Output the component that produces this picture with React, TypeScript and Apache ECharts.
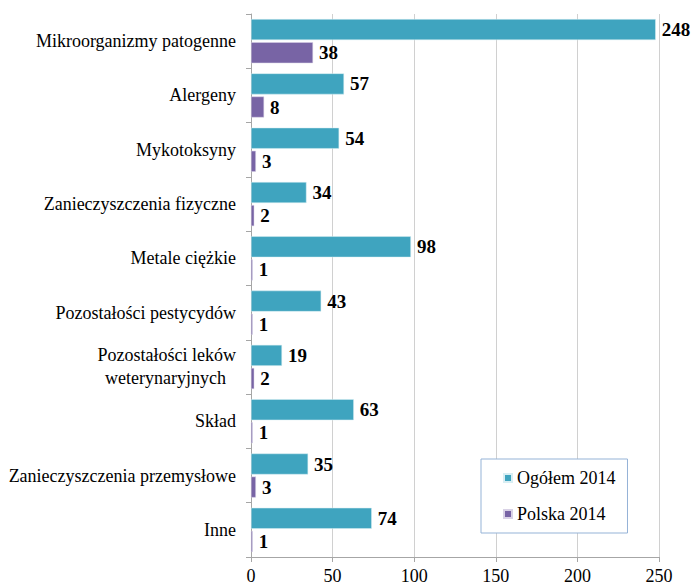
import React, { useEffect, useRef } from "react";
import * as echarts from "echarts";

const categories = [
  "Mikroorganizmy patogenne",
  "Alergeny",
  "Mykotoksyny",
  "Zanieczyszczenia fizyczne",
  "Metale ciężkie",
  "Pozostałości pestycydów",
  "Pozostałości leków weterynaryjnych",
  "Skład",
  "Zanieczyszczenia przemysłowe",
  "Inne",
];
const ogolem2014 = [248, 57, 54, 34, 98, 43, 19, 63, 35, 74];
const polska2014 = [38, 8, 3, 2, 1, 1, 2, 1, 3, 1];
const seriesNames = ["Ogółem 2014", "Polska 2014"];

const FONT = "Liberation Serif";

export default function App() {
  const ref = useRef<HTMLDivElement>(null);
  useEffect(() => {
    if (!ref.current) return;
    const chart = echarts.init(ref.current, null, { renderer: "svg" });
    const labelStyle = {
      show: true,
      position: "right",
      distance: 6,
      color: "#000",
      fontFamily: FONT,
      fontWeight: "bold",
      fontSize: 19,
    };
    chart.setOption({
      animation: false,
      backgroundColor: "#fff",
      textStyle: { fontFamily: FONT },
      grid: { left: 251, right: 35, top: 14, bottom: 28, containLabel: false },
      legend: {
        orient: "vertical",
        left: 481,
        top: 459,
        width: 155,
        height: 69,
        padding: [10, 12, 10, 22],
        itemGap: 18,
        itemWidth: 8,
        itemHeight: 8,
        icon: "rect",
        backgroundColor: "#fff",
        borderColor: "#95B3D7",
        borderWidth: 1,
        borderRadius: 0,
        textStyle: { fontFamily: FONT, fontSize: 18, color: "#000" },
        data: seriesNames,
      },
      xAxis: {
        type: "value",
        min: 0,
        max: 250,
        interval: 50,
        axisLine: { show: true, lineStyle: { color: "#A6A6A6" } },
        axisTick: { show: true, length: 5, lineStyle: { color: "#A6A6A6" } },
        splitLine: { show: true, lineStyle: { color: "#D0D0D0" } },
        axisLabel: { color: "#000", fontFamily: FONT, fontSize: 18, margin: 10 },
      },
      yAxis: {
        type: "category",
        inverse: true,
        data: categories,
        axisLine: { show: true, lineStyle: { color: "#A6A6A6" } },
        axisTick: { show: true, length: 5, lineStyle: { color: "#A6A6A6" } },
        axisLabel: {
          color: "#000",
          fontFamily: FONT,
          fontSize: 18,
          margin: 15,
          lineHeight: 23,
          formatter: (v: string) =>
            v === "Pozostałości leków weterynaryjnych"
              ? "Pozostałości leków\n{w|weterynaryjnych}"
              : v,
          rich: {
            w: { fontFamily: FONT, fontSize: 18, color: "#000", padding: [0, 10, 0, 0] },
          },
        },
      },
      series: [
        {
          name: seriesNames[0],
          type: "bar",
          data: ogolem2014,
          barWidth: 21,
          barGap: "10%",
          itemStyle: { color: "#3FA4BF", borderColor: "#D8EEF3", borderWidth: 0.5 },
          label: labelStyle,
        },
        {
          name: seriesNames[1],
          type: "bar",
          data: polska2014,
          barWidth: 21,
          barGap: "10%",
          itemStyle: { color: "#7864A5", borderColor: "#D9D2E6", borderWidth: 0.5 },
          label: labelStyle,
        },
      ],
    });
    return () => chart.dispose();
  }, []);
  return (
    <div
      ref={ref}
      style={{ position: "absolute", left: 0, top: 0, width: 694, height: 585 }}
    />
  );
}
